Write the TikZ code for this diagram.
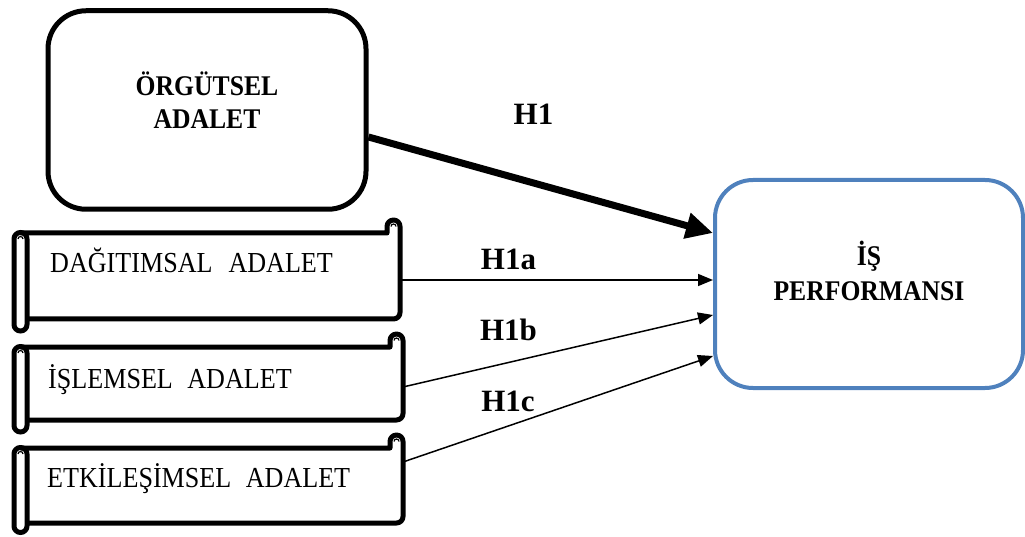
\documentclass[tikz,border=0pt]{standalone}
\usepackage{fontspec}
\setmainfont{Liberation Serif}
\newfontfamily\narrowserif[FakeStretch=0.9]{Liberation Serif}
\usetikzlibrary{arrows.meta,calc}
\definecolor{perfblue}{RGB}{79,129,189}
\tikzset{
 mainbox/.style={draw, line width=5pt, rounded corners=38pt, align=center, font=\narrowserif\fontsize{28.5}{33}\selectfont\bfseries, inner sep=0pt, text depth=19pt},
 perfbox/.style={draw=perfblue, line width=4pt, rounded corners=38pt, align=center, font=\narrowserif\fontsize{28.5}{35}\selectfont\bfseries, inner sep=0pt, text depth=27pt},
 scrollbody/.style={draw=none, inner sep=0pt, outer sep=0pt},
 scrl/.style={line width=5pt, line join=round},
 scrlin/.style={line width=1.2pt},
 scrolltext/.style={anchor=base west, font=\narrowserif\fontsize{29}{32}\selectfont, inner sep=0pt},
 hlabel/.style={anchor=base, font=\fontsize{31}{36}\selectfont\bfseries, inner sep=0pt},
 thinarrow/.style={line width=1.5pt, -{Triangle[length=15pt,width=12pt]}},
 thickarrow/.style={line width=7pt, -{Triangle[length=27pt,width=25pt]}},
}
\newcommand{\scrollshape}[5]{%
 \draw[scrl] (20.5,#3) -- ({#2-13},#3) -- ({#2-13},{#3+6.5}) arc[start angle=180,end angle=0,radius=6.5] -- (#2,{#4+6.5}) arc[start angle=0,end angle=-90,radius=6.5] -- (#1,#4);
 \draw[scrl, rounded corners=6.4pt] (14,{#3+0.5}) rectangle (27,#5);
 \draw[scrlin] ({#2-9},{#3+6.5}) arc[start angle=180,end angle=0,radius=2.5];
 \draw[scrlin] (18,{#3-6}) arc[start angle=180,end angle=0,radius=2.5];
}
\begin{document}
\begin{tikzpicture}[x=1pt,y=1pt]
\useasboundingbox (0,0) rectangle (1025,536);
% main boxes
\node[mainbox, minimum width=318pt, minimum height=198.5pt] (org) at (207,426) {ÖRGÜTSEL\\ADALET};
\node[perfbox, minimum width=308pt, minimum height=208pt] (perf) at (869,252) {İŞ\\PERFORMANSI};
% scroll bodies
\node[scrollbody, minimum width=373pt, minimum height=86pt] (dag) at (213.5,260) {};
\node[scrollbody, minimum width=376pt, minimum height=73pt] (isl) at (215,152.5) {};
\node[scrollbody, minimum width=376pt, minimum height=75pt] (etk) at (215,50.5) {};
\scrollshape{27}{400}{303}{217}{205}
\scrollshape{27}{403}{189}{116}{104}
\scrollshape{27}{403}{88}{13}{3.5}
\node[scrolltext] (dagt) at (50,263) {DAĞITIMSAL\hspace{0.55em}ADALET};
\node[scrolltext] (islt) at (48,148) {İŞLEMSEL\hspace{0.5em}ADALET};
\node[scrolltext] (etkt) at (47,49) {ETKİLEŞİMSEL\hspace{0.5em}ADALET};
% labels
\node[hlabel] (h1) at (533.5,411) {H1};
\node[hlabel] (h1a) at (508.5,266) {H1a};
\node[hlabel] (h1b) at (508.5,196) {H1b};
\node[hlabel] (h1c) at (508,125) {H1c};
% connectors
\draw[thickarrow] ([yshift=-27pt]org.east) -- ([yshift=51pt]perf.west);
\draw[thinarrow] ([yshift=-4pt]dag.east) -- ([yshift=4pt]perf.west);
\draw[thinarrow] ([yshift=-3.5pt]isl.east) -- ([yshift=-31pt]perf.west);
\draw[thinarrow] ([yshift=23.5pt]etk.east) -- ([yshift=-72pt]perf.west);
\end{tikzpicture}
\end{document}
